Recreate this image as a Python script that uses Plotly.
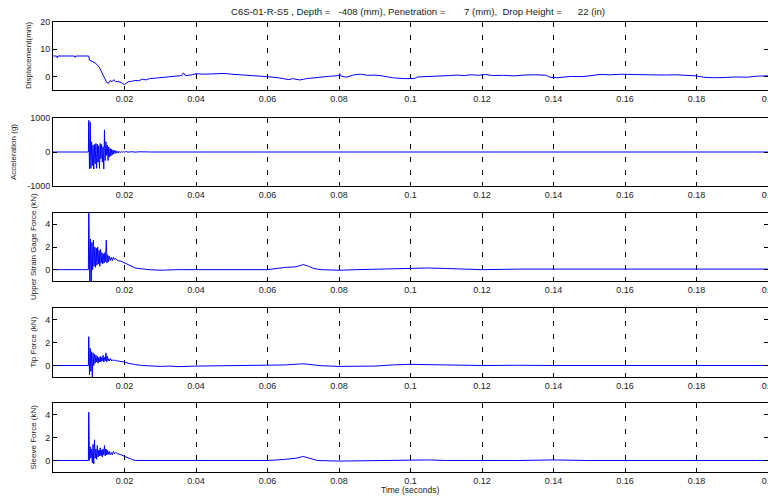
import plotly.graph_objects as go

W, H = 768, 496

# ---------------- data ----------------
x_tick_vals = [0.02, 0.04, 0.06, 0.08, 0.10, 0.12, 0.14, 0.16, 0.18, 0.20]
x_tick_text = ["0.02", "0.04", "0.06", "0.08", "0.1", "0.12", "0.14", "0.16", "0.18", "0.2"]

disp_pts = [(0, 7.5), (0.001, 7.5), (0.0012, 6.8), (0.0014, 7.5), (0.006, 7.5), (0.0062, 7.0), (0.0064, 7.5),
            (0.0100, 7.5), (0.0102, 6.0), (0.011, 5.6), (0.012, 4.8), (0.013, 3.2), (0.0135, 2.0), (0.014, 0.8),
            (0.0145, -0.8), (0.015, -2.2), (0.0155, -2.5), (0.016, -1.5), (0.0165, -2.0), (0.017, -1.2),
            (0.0175, -2.0), (0.018, -1.8), (0.019, -2.2), (0.020, -3.0), (0.0205, -2.4), (0.021, -2.0),
            (0.022, -1.8), (0.023, -1.5), (0.024, -1.6), (0.025, -1.0), (0.026, -1.3), (0.027, -0.8),
            (0.029, -0.6), (0.031, -0.3), (0.033, 0.0), (0.035, 0.1), (0.036, 0.3), (0.0365, 1.3), (0.037, 0.3),
            (0.039, 0.6), (0.040, 1.0), (0.042, 0.8), (0.045, 1.0), (0.048, 1.1), (0.05, 0.8), (0.053, 0.6),
            (0.055, 0.2), (0.058, 0.0), (0.06, -0.1), (0.063, -0.5), (0.066, -1.2), (0.067, -0.8), (0.069, -1.3),
            (0.071, -0.8), (0.074, -0.3), (0.077, 0.0), (0.08, 0.3), (0.0802, 1.0), (0.0805, 0.2), (0.082, -0.3),
            (0.084, 0.5), (0.086, 0.8), (0.088, 0.4), (0.09, 0.5), (0.092, 0.2), (0.095, -0.5), (0.098, -0.8),
            (0.101, -0.8), (0.102, -0.2), (0.105, -0.1), (0.108, 0.0), (0.111, 0.3), (0.113, 0.5), (0.115, 0.3),
            (0.117, 0.6), (0.119, 0.4), (0.121, 0.7), (0.123, 0.3), (0.126, 0.4), (0.129, 0.2), (0.132, 0.5),
            (0.135, 0.6), (0.138, 0.4), (0.139, -0.3), (0.141, -0.5), (0.143, -0.3), (0.145, 0.0), (0.148, -0.1),
            (0.151, 0.4), (0.153, 0.7), (0.156, 0.6), (0.159, 0.8), (0.162, 0.7), (0.165, 0.6), (0.168, 0.7),
            (0.171, 0.5), (0.174, 0.6), (0.177, 0.3), (0.18, 0.2), (0.182, -0.3), (0.185, -0.5), (0.188, -0.4),
            (0.191, -0.2), (0.194, -0.3), (0.197, 0.1), (0.2, 0.2)]

accel_pts = [(0, 0), (0.0099, 0), (0.0100, 930), (0.0102, -500), (0.0104, 880), (0.0106, -480), (0.0108, 300),
             (0.0110, -400), (0.0112, 200), (0.0114, -500), (0.0116, 220), (0.0118, -350), (0.0120, 250),
             (0.0122, -480), (0.0124, 230), (0.0126, -300), (0.0128, 180), (0.0130, -480), (0.0132, 250),
             (0.0134, -200), (0.0136, 220), (0.0138, -300), (0.0140, 150), (0.0142, -500), (0.0144, 650),
             (0.0146, -250), (0.0148, 300), (0.0150, -100), (0.0152, 200), (0.0154, -250), (0.0156, 150),
             (0.0158, -150), (0.0160, 100), (0.0162, -120), (0.0164, 80), (0.0166, -80), (0.0168, 60),
             (0.0170, -60), (0.0173, 50), (0.0176, -40), (0.0179, 30), (0.0182, -30), (0.0185, 20), (0.0188, -20),
             (0.0191, 15), (0.0194, -10), (0.0197, 10), (0.0200, 0), (0.0205, 10), (0.021, -5), (0.022, 8),
             (0.023, -5), (0.024, 6), (0.025, -4), (0.026, 4), (0.027, 0), (0.06, 0), (0.061, 8), (0.062, -8),
             (0.063, 0), (0.09, 0), (0.091, 6), (0.092, -6), (0.093, 0), (0.2, 0)]

usg_pts = [(0, 0), (0.0099, 0), (0.0100, 5.5), (0.0101, 1.0), (0.0103, -1.2), (0.0105, 2.7), (0.0107, -1.2),
           (0.0109, 2.4), (0.0111, 0.0), (0.0113, 2.6), (0.0115, 0.3), (0.0117, 2.0), (0.0119, 0.2),
           (0.0121, 1.9), (0.0123, 0.4), (0.0125, 2.0), (0.0127, 0.5), (0.0129, 1.7), (0.0131, 0.3),
           (0.0133, 1.8), (0.0135, 0.6), (0.0137, 1.5), (0.0139, 0.5), (0.0141, 1.4), (0.0143, 0.6),
           (0.0145, 1.5), (0.0147, 0.7), (0.0149, 2.6), (0.0151, 0.6), (0.0153, 1.3), (0.0155, 0.7),
           (0.0157, 1.2), (0.0160, 0.8), (0.0163, 1.1), (0.0166, 0.8), (0.0169, 1.1), (0.0172, 0.9),
           (0.0175, 1.0), (0.0178, 0.9), (0.018, 0.8), (0.019, 0.75), (0.020, 0.6), (0.021, 0.4), (0.022, 0.25),
           (0.023, 0.15), (0.024, 0.1), (0.025, 0.05), (0.027, 0.0), (0.03, -0.05), (0.035, 0.0), (0.06, 0.0),
           (0.062, 0.1), (0.065, 0.2), (0.068, 0.25), (0.070, 0.45), (0.0715, 0.3), (0.073, 0.1), (0.075, 0.0),
           (0.078, -0.05), (0.08, -0.05), (0.085, 0.0), (0.09, 0.05), (0.095, 0.1), (0.1, 0.15), (0.105, 0.15),
           (0.11, 0.1), (0.115, 0.05), (0.12, 0.0), (0.13, 0.05), (0.2, 0.05)]

tip_pts = [(0, 0), (0.0099, 0), (0.0100, 2.5), (0.0101, 0.3), (0.0102, -0.8), (0.0104, 1.5), (0.0106, -0.5),
           (0.0108, 1.2), (0.0110, -1.0), (0.0112, 1.1), (0.0114, 0.0), (0.0116, 1.0), (0.0118, 0.2),
           (0.0120, 0.9), (0.0122, 0.3), (0.0124, 0.8), (0.0126, 0.2), (0.0128, 0.7), (0.0130, 0.3),
           (0.0132, 0.8), (0.0134, 0.3), (0.0136, 0.7), (0.0138, 0.4), (0.0140, 0.9), (0.0142, 0.3),
           (0.0144, 0.7), (0.0146, 0.4), (0.0148, 1.1), (0.0150, 0.3), (0.0152, 0.8), (0.0154, 0.4),
           (0.0156, 0.6), (0.0158, 0.4), (0.0161, 0.6), (0.0164, 0.4), (0.0167, 0.5), (0.0170, 0.4),
           (0.0173, 0.5), (0.0176, 0.4), (0.018, 0.4), (0.019, 0.38), (0.020, 0.3), (0.021, 0.2), (0.022, 0.12),
           (0.023, 0.08), (0.025, 0.0), (0.027, -0.05), (0.03, -0.08), (0.033, -0.05), (0.035, -0.1),
           (0.04, -0.05), (0.05, -0.03), (0.06, 0.0), (0.065, 0.05), (0.07, 0.15), (0.073, 0.05), (0.075, -0.02),
           (0.08, -0.08), (0.09, -0.05), (0.095, 0.05), (0.1, 0.1), (0.11, 0.05), (0.12, 0.0), (0.13, 0.02),
           (0.14, 0.0), (0.2, 0.0)]

sleeve_pts = [(0, 0), (0.0099, 0), (0.0100, 4.2), (0.0101, 0.5), (0.0102, 0.0), (0.0104, 1.2), (0.0106, 0.2),
              (0.0108, 1.0), (0.0110, -0.2), (0.0112, 1.4), (0.0114, -0.3), (0.0116, 1.8), (0.0118, 0.2),
              (0.0120, 1.0), (0.0122, 0.1), (0.0124, 1.3), (0.0126, 0.3), (0.0128, 0.9), (0.0130, 0.4),
              (0.0132, 1.1), (0.0134, 0.4), (0.0136, 0.9), (0.0138, 0.3), (0.0140, 1.0), (0.0142, 0.5),
              (0.0144, 1.3), (0.0146, 0.4), (0.0148, 1.0), (0.0150, 0.5), (0.0152, 0.9), (0.0154, 0.5),
              (0.0157, 0.8), (0.0160, 0.5), (0.0163, 0.7), (0.0166, 0.5), (0.0169, 0.8), (0.0172, 0.6),
              (0.0175, 0.7), (0.018, 0.6), (0.019, 0.5), (0.020, 0.35), (0.021, 0.25), (0.022, 0.1),
              (0.023, 0.0), (0.025, 0.0), (0.03, -0.05), (0.035, -0.05), (0.04, 0.0), (0.06, 0.0), (0.065, 0.1),
              (0.068, 0.2), (0.070, 0.35), (0.072, 0.15), (0.074, 0.0), (0.08, -0.05), (0.09, -0.02), (0.1, 0.05),
              (0.105, 0.05), (0.11, 0.0), (0.12, -0.03), (0.13, 0.0), (0.14, 0.05), (0.15, 0.0), (0.2, 0.0)]

panel_titles = ["Displacement(mm)", "Acceleration (g)", "Upper Strain Gage Force (kN)", "Tip Force (kN)", "Sleeve Force (kN)"]
y_ranges = [[-5, 20], [-1000, 1000], [-1, 5], [-1, 5], [-1, 5]]
y_tick_vals = [[0, 10, 20], [-1000, 0, 1000], [0, 2, 4], [0, 2, 4], [0, 2, 4]]
y_tick_text = [["0", "10", "20"], ["-1000", "0", "1000"], ["0", "2", "4"], ["0", "2", "4"], ["0", "2", "4"]]

title_text = ("C6S-01-R-S5 , Depth =\u00a0\u00a0\u00a0-408 (mm), Penetration =\u00a0\u00a0\u00a0\u00a0\u00a0\u00a0\u00a07 (mm),"
              "\u00a0 Drop Height =\u00a0\u00a0\u00a0\u00a0\u00a0\u00a022 (in)")

# ---------------- layout helpers ----------------
panel_px = [(22, 90), (118, 186), (213, 281), (308, 377), (403, 472)]
title_x_px = [28, 14, 33, 33, 33]
x_left_px = 53
FONT = "Liberation Sans, Arial, sans-serif"

series = [disp_pts, accel_pts, usg_pts, tip_pts, sleeve_pts]

fig = go.Figure()
annotations = []
for i, pts in enumerate(series):
    n = "" if i == 0 else str(i + 1)
    t = [p[0] for p in pts]
    v = [p[1] for p in pts]
    fig.add_trace(go.Scatter(x=t, y=v, mode="lines", line=dict(color="#0000ff", width=1),
                             xaxis="x" + n, yaxis="y" + n, showlegend=False, hoverinfo="skip"))
    top, bot = panel_px[i]
    ydom = [1 - bot / H, 1 - top / H]
    common = dict(showline=True, linecolor="black", linewidth=1, mirror="ticks", ticks="inside",
                  ticklen=4, tickcolor="black", tickfont=dict(family=FONT, size=9, color="#222"),
                  zeroline=False, automargin=False)
    fig.update_layout(**{
        "xaxis" + n: dict(domain=[x_left_px / W, 1.0], range=[0, 0.2], anchor="y" + n,
                          tickvals=x_tick_vals, ticktext=x_tick_text, showgrid=True,
                          gridcolor="black", gridwidth=1, griddash="5px,8px",
                          ticklabeloverflow="allow", **common),
        "yaxis" + n: dict(domain=ydom, range=y_ranges[i], anchor="x" + n,
                          tickvals=y_tick_vals[i], ticktext=y_tick_text[i], showgrid=False, **common),
    })
    annotations.append(dict(text=panel_titles[i], x=title_x_px[i] / W, y=1 - (top + bot) / 2 / H,
                            xref="paper", yref="paper", showarrow=False, textangle=-90,
                            font=dict(family=FONT, size=8, color="#222"), xanchor="center", yanchor="middle"))

annotations.append(dict(text=title_text, x=418 / W, y=1 - 12 / H, xref="paper", yref="paper",
                        showarrow=False, font=dict(family=FONT, size=9.6, color="#222"),
                        xanchor="center", yanchor="middle"))
annotations.append(dict(text="Time (seconds)", x=410 / W, y=1 - 496 / H, xref="paper", yref="paper",
                        showarrow=False, font=dict(family=FONT, size=8.5, color="#222"),
                        xanchor="center", yanchor="bottom", borderpad=0))

fig.update_layout(template="none", width=W, height=H, margin=dict(l=0, r=0, t=0, b=0, pad=0),
                  paper_bgcolor="white", plot_bgcolor="white", annotations=annotations)

fig.write_html("out.html", config={"displayModeBar": False},
               post_script="document.body.style.margin='0';document.body.style.padding='0';"
                           "document.body.style.overflow='hidden';")
